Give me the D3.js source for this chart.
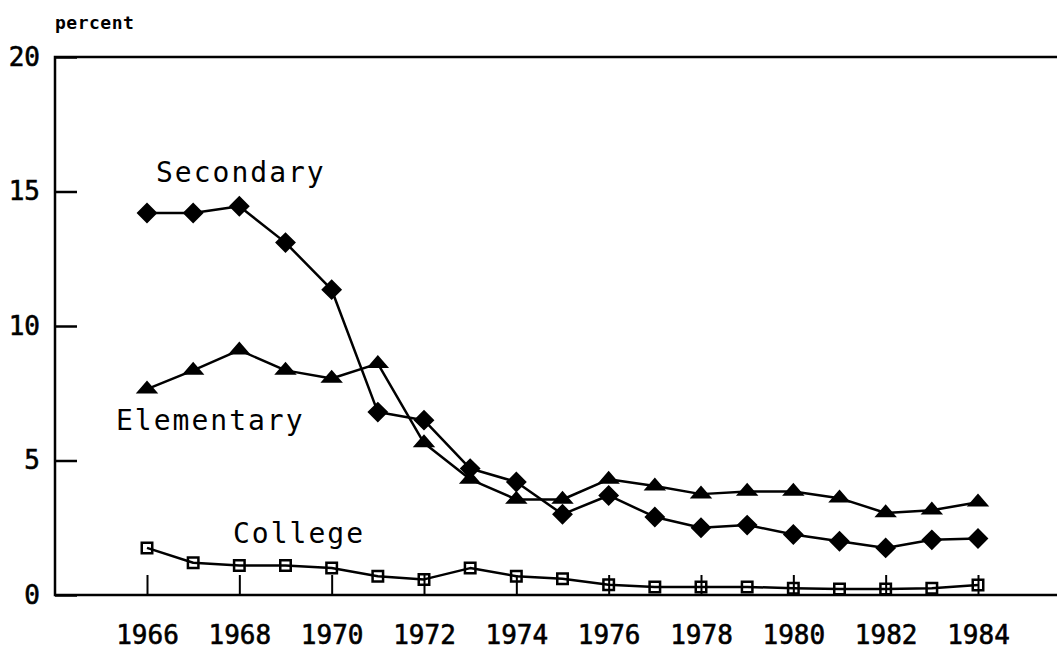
<!DOCTYPE html>
<html>
<head>
<meta charset="utf-8">
<script src="https://cdn.jsdelivr.net/npm/d3@7"></script>
<style>
body { margin: 0; background: #fff; }
</style>
</head>
<body>
<svg class="chart" width="1057" height="662"></svg>
<script>
var years = d3.range(1966, 1985),
	secondary = [14.2, 14.2, 14.45, 13.1, 11.35, 6.8, 6.5, 4.7, 4.2, 3.0, 3.7, 2.9, 2.5, 2.6, 2.25, 2.0, 1.75, 2.05, 2.1],
	elementary = [7.65, 8.35, 9.1, 8.35, 8.05, 8.6, 5.65, 4.3, 3.55, 3.55, 4.3, 4.05, 3.75, 3.85, 3.85, 3.6, 3.05, 3.15, 3.45],
	college = [1.75, 1.2, 1.1, 1.1, 1.0, 0.7, 0.58, 1.0, 0.7, 0.6, 0.38, 0.3, 0.3, 0.3, 0.25, 0.22, 0.22, 0.25, 0.37],
	yTicks = [0, 5, 10, 15, 20],
	xTicks = [1966, 1968, 1970, 1972, 1974, 1976, 1978, 1980, 1982, 1984];

var ink = "#000",
	mono = "'DejaVu Sans Mono', monospace";

var svg = d3.select(".chart"),
	frame = { left: 55, top: 57, right: 1057, bottom: 595 };

var x = d3.scaleLinear()
	.domain([1966, 1984])
	.range([147, 978]);
var y = d3.scaleLinear()
	.domain([0, 20])
	.range([frame.bottom, frame.top]);

// frame: left, top and bottom rules (no right side)
svg.append("path")
	.attr("d", "M" + frame.right + "," + frame.top + "H" + frame.left + "V" + frame.bottom + "H" + frame.right)
	.attr("fill", "none")
	.attr("stroke", ink)
	.attr("stroke-width", 2.5);

var left = svg.append("g")
	.attr("transform", "translate(" + frame.left + ",0)")
	.call(d3.axisLeft(y).tickValues(yTicks).tickSize(-22).tickPadding(15));
left.select(".domain").remove();
left.selectAll("line").attr("stroke", ink).attr("stroke-width", 2.5);
left.selectAll("text")
	.attr("fill", ink)
	.style("font-family", mono)
	.style("font-size", "26px")
	.style("stroke", ink)
	.style("stroke-width", 0.6);

var bot = svg.append("g")
	.attr("transform", "translate(0," + frame.bottom + ")")
	.call(d3.axisBottom(x).tickValues(xTicks).tickFormat(d3.format("d")).tickSize(-20).tickPadding(31));
bot.select(".domain").remove();
bot.selectAll("line").attr("stroke", ink).attr("stroke-width", 2);
bot.selectAll("text")
	.attr("fill", ink)
	.style("font-family", mono)
	.style("font-size", "26px")
	.style("stroke", ink)
	.style("stroke-width", 0.6);

svg.append("text")
	.attr("x", 55)
	.attr("y", 29)
	.attr("fill", ink)
	.style("font-family", mono)
	.style("font-size", "18px")
	.style("font-weight", "bold")
	.style("letter-spacing", "0.5px")
	.text("percent");

function series(values) {
	return values.map(function(v, i) {
		return { year: years[i], value: v };
	});
}

var line = d3.line()
	.x(function(d) { return x(d.year); })
	.y(function(d) { return y(d.value); });

var sets = [
	{ name: "Secondary", data: series(secondary), shape: d3.symbolSquare, size: 150, fill: ink, shape_t: " rotate(45)" },
	{ name: "Elementary", data: series(elementary), shape: d3.symbolTriangle, size: 90, fill: ink, shape_t: " scale(1.2,0.8)" },
	{ name: "College", data: series(college), shape: d3.symbolSquare, size: 110, fill: "none", shape_t: "" }
];

sets.forEach(function(s) {
	svg.append("path")
		.datum(s.data)
		.attr("fill", "none")
		.attr("stroke", ink)
		.attr("stroke-width", 2.5)
		.attr("stroke-linejoin", "round")
		.attr("d", line);
	svg.append("g")
		.selectAll("path")
		.data(s.data)
		.enter().append("path")
		.attr("transform", function(d) { return "translate(" + x(d.year) + "," + y(d.value) + ")" + s.shape_t; })
		.attr("d", d3.symbol().type(s.shape).size(s.size))
		.attr("fill", s.fill)
		.attr("stroke", ink)
		.attr("stroke-width", 2.5);
});

// series names
var labels = [
	{ text: "Secondary", x: 156, y: 182 },
	{ text: "Elementary", x: 116, y: 430 },
	{ text: "College", x: 233, y: 543 }
];
svg.append("g")
	.selectAll("text")
	.data(labels)
	.enter().append("text")
	.attr("x", function(d) { return d.x; })
	.attr("y", function(d) { return d.y; })
	.attr("fill", ink)
	.style("font-family", mono)
	.style("font-size", "28px")
	.style("letter-spacing", "2px")
	.text(function(d) { return d.text; });
</script>
</body>
</html>
